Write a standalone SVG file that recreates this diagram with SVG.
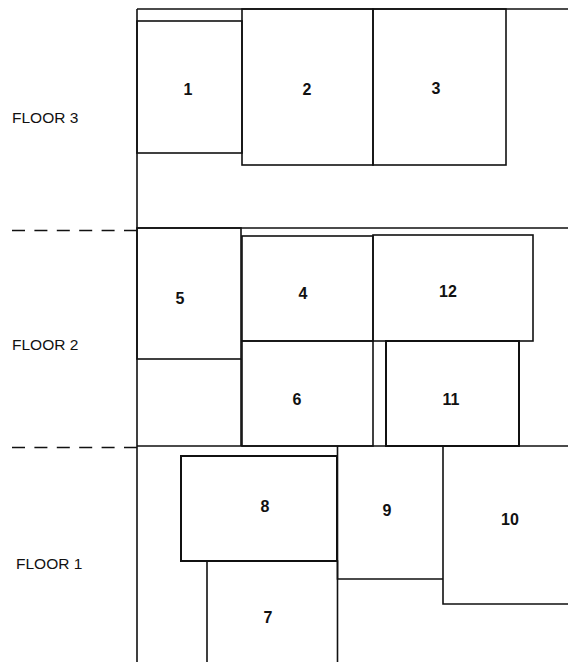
<svg xmlns="http://www.w3.org/2000/svg" width="568" height="662" viewBox="0 0 568 662">
<style>
.ln{fill:none;stroke:#111;stroke-width:1.6}
.thk{fill:none;stroke:#111;stroke-width:2}
.dash{fill:none;stroke:#111;stroke-width:1.6;stroke-dasharray:13 9.4}
.lbl{font-family:"Liberation Sans",Arial,sans-serif;font-size:16px;font-weight:bold;fill:#111;text-anchor:middle}
.fl{font-family:"Liberation Sans",Arial,sans-serif;font-size:15.5px;fill:#111}
</style>
<rect width="568" height="662" fill="#fff"/>
<g id="frame">
<path class="ln" d="M137,9V662M137,9H568M137,228H568M137,446H568"/>
<path class="dash" d="M12,230.5H137M12,447.5H137"/>
</g>
<g id="floor3label"><text class="fl" x="12" y="123">FLOOR 3</text></g>
<g id="floor2label"><text class="fl" x="12" y="350">FLOOR 2</text></g>
<g id="floor1label"><text class="fl" x="16" y="569">FLOOR 1</text></g>
<g id="room1"><rect class="ln" x="137" y="21" width="105" height="132"/><text class="lbl" x="188" y="95">1</text></g>
<g id="room2"><rect class="ln" x="242" y="9" width="131" height="156"/><text class="lbl" x="307" y="95">2</text></g>
<g id="room3"><rect class="ln" x="373" y="9" width="133" height="156"/><text class="lbl" x="436" y="94">3</text></g>
<g id="room5"><rect class="ln" x="137" y="228" width="104" height="131"/><path class="ln" d="M241,359V446"/><text class="lbl" x="180" y="304">5</text></g>
<g id="room4"><rect class="ln" x="242" y="236" width="131" height="105"/><text class="lbl" x="303" y="299">4</text></g>
<g id="room12"><rect class="ln" x="373" y="235" width="160" height="106"/><text class="lbl" x="448" y="297">12</text></g>
<g id="room6"><rect class="ln" x="242" y="341" width="131" height="105"/><text class="lbl" x="297" y="405">6</text></g>
<g id="room11"><rect class="thk" x="386" y="341" width="133" height="105"/><text class="lbl" x="451" y="405">11</text></g>
<g id="room8"><rect class="thk" x="181" y="456" width="156" height="105"/><text class="lbl" x="265" y="512">8</text></g>
<g id="room7"><path class="ln" d="M207,662V561H337.5V662"/><text class="lbl" x="268" y="623">7</text></g>
<g id="room9"><path class="ln" d="M337.5,446V579H443"/><text class="lbl" x="387" y="516">9</text></g>
<g id="room10"><path class="ln" d="M443,446V604H568"/><text class="lbl" x="510" y="525">10</text></g>
</svg>
